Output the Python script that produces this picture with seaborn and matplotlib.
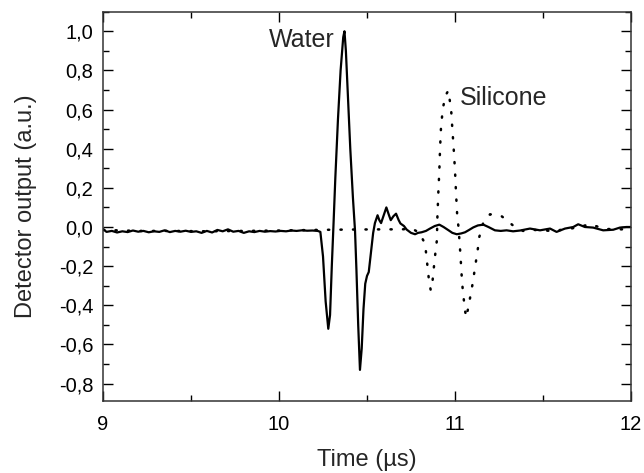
import numpy as np
import pandas as pd
import matplotlib
matplotlib.use("Agg")
import matplotlib.pyplot as plt
from matplotlib.ticker import MultipleLocator, FuncFormatter
import seaborn as sns

# ---- data ----
water_t = [9.00, 9.02, 9.05, 9.08, 9.11, 9.14, 9.17, 9.20, 9.23, 9.26, 9.29, 9.32, 9.35, 9.38,
           9.41, 9.44, 9.47, 9.50, 9.53, 9.56, 9.59, 9.62, 9.65, 9.68, 9.71, 9.74, 9.77, 9.80,
           9.83, 9.86, 9.89, 9.92, 9.95, 9.98, 10.01, 10.04, 10.07, 10.10, 10.13, 10.16, 10.19,
           10.22, 10.235, 10.25, 10.265, 10.28, 10.29, 10.30, 10.31, 10.32, 10.335, 10.35, 10.365,
           10.372, 10.38, 10.39, 10.405, 10.42, 10.432, 10.44, 10.45, 10.46, 10.47, 10.48, 10.49,
           10.50, 10.51, 10.52, 10.535, 10.545, 10.56, 10.57, 10.58, 10.595, 10.61, 10.625, 10.635,
           10.65, 10.665, 10.68, 10.69, 10.71, 10.725, 10.75, 10.773, 10.79, 10.81, 10.835, 10.858,
           10.885, 10.911, 10.935, 10.962, 10.985, 11.01, 11.035, 11.057, 11.08, 11.104, 11.13,
           11.161, 11.19, 11.227, 11.26, 11.293, 11.33, 11.37, 11.426, 11.483, 11.54, 11.577,
           11.625, 11.672, 11.70, 11.738, 11.785, 11.842, 11.899, 11.937, 11.974, 12.0]
water_v = [-0.010, -0.025, -0.020, -0.028, -0.022, -0.026, -0.018, -0.024, -0.020, -0.027, -0.022,
           -0.025, -0.017, -0.026, -0.020, -0.024, -0.019, -0.025, -0.022, -0.030, -0.020, -0.028,
           -0.015, -0.022, -0.012, -0.024, -0.020, -0.030, -0.022, -0.026, -0.020, -0.024, -0.021,
           -0.023, -0.020, -0.022, -0.018, -0.020, -0.017, -0.019, -0.018, -0.020, -0.025, -0.15,
           -0.38, -0.52, -0.45, -0.20, 0.02, 0.25, 0.55, 0.80, 0.97, 1.00, 0.90, 0.70, 0.40, 0.15,
           -0.02, -0.22, -0.50, -0.73, -0.62, -0.42, -0.29, -0.25, -0.23, -0.15, -0.03, 0.02, 0.06,
           0.035, 0.02, 0.06, 0.10, 0.06, 0.035, 0.055, 0.068, 0.035, 0.018, 0.005, -0.013, -0.030,
           -0.037, -0.030, -0.027, -0.020, -0.008, 0.005, 0.012, 0.0, -0.016, -0.030, -0.037, -0.033,
           -0.027, -0.015, -0.002, 0.008, 0.012, 0.0, -0.017, -0.020, -0.017, -0.022, -0.018, -0.008,
           -0.017, -0.008, -0.025, -0.008, 0.0, 0.014, 0.0, -0.003, -0.017, -0.014, -0.003, 0.0, 0.0]

silicone_t = [9.0, 9.2, 9.4, 9.6, 9.8, 10.0, 10.2, 10.4, 10.6, 10.7, 10.754, 10.80, 10.815, 10.830,
              10.838, 10.845, 10.852, 10.862, 10.87, 10.876, 10.883, 10.89, 10.897, 10.90, 10.905,
              10.911, 10.915, 10.92, 10.93, 10.945, 10.962, 10.978, 10.985, 10.992, 11.0, 11.006,
              11.013, 11.021, 11.025, 11.03, 11.034, 11.038, 11.043, 11.05, 11.055, 11.064, 11.078,
              11.088, 11.1, 11.11, 11.12, 11.13, 11.138, 11.16, 11.199, 11.235, 11.265, 11.30,
              11.328, 11.386, 11.45, 11.55, 11.65, 11.77, 11.85, 11.95, 12.0]
silicone_v = [-0.015, -0.02, -0.02, -0.022, -0.02, -0.018, -0.015, -0.013, -0.012, -0.012, -0.008,
              -0.03, -0.06, -0.085, -0.153, -0.212, -0.272, -0.323, -0.30, -0.24, -0.18, -0.12,
              -0.068, 0.051, 0.170, 0.289, 0.40, 0.50, 0.60, 0.67, 0.697, 0.60, 0.50, 0.408, 0.289,
              0.170, 0.051, -0.008, -0.068, -0.13, -0.19, -0.25, -0.31, -0.37, -0.417, -0.462,
              -0.40, -0.35, -0.29, -0.23, -0.17, -0.11, -0.051, 0.02, 0.065, 0.06, 0.055, 0.03,
              0.009, -0.02, -0.015, -0.02, -0.01, 0.014, -0.01, -0.012, -0.01]

x_ticks = [9, 10, 11, 12]
y_ticks = [-0.8, -0.6, -0.4, -0.2, 0.0, 0.2, 0.4, 0.6, 0.8, 1.0]

water = pd.DataFrame({"t": water_t, "v": water_v})
silicone = pd.DataFrame({"t": silicone_t, "v": silicone_v})

sns.set_theme(style="ticks")
plt.rcParams["font.family"] = ["Liberation Sans", "DejaVu Sans"]

fig = plt.figure(figsize=(6.44, 4.73), dpi=100)
ax = fig.add_axes([103 / 644, 1 - 401 / 473, (631 - 103) / 644, (401 - 11.7) / 473])

sns.lineplot(data=silicone, x="t", y="v", ax=ax, color="black", lw=1.8,
             linestyle=(0, (0.5, 4.5)), estimator=None, sort=False,
             dash_capstyle="round")
sns.lineplot(data=water, x="t", y="v", ax=ax, color="black", lw=1.6,
             estimator=None, sort=False)

ax.set_xlim(9, 12)
ax.set_ylim(-0.889, 1.1)
ax.set_xticks(x_ticks)
ax.set_yticks(y_ticks)
ax.xaxis.set_minor_locator(MultipleLocator(0.5))
ax.yaxis.set_minor_locator(MultipleLocator(0.1))
ax.xaxis.set_major_formatter(FuncFormatter(lambda v, p: f"{v:.0f}"))
ax.yaxis.set_major_formatter(FuncFormatter(lambda v, p: f"{v:.1f}".replace(".", ",").replace("\u2212", "-")))
ax.tick_params(which="both", direction="in", top=True, right=True, color="black", width=1)
ax.tick_params(which="major", length=7, labelsize=14.5, colors="black")
ax.tick_params(axis="x", which="major", pad=10)
ax.tick_params(axis="y", which="major", pad=7)
ax.tick_params(which="minor", length=4)
for s in ax.spines.values():
    s.set_linewidth(1.1)
    s.set_color("#333333")

ax.set_xlabel("Time (µs)", fontsize=17, labelpad=11)
ax.set_ylabel("Detector output (a.u.)", fontsize=17, labelpad=16)

ax.text(9.945, 0.953, "Water", fontsize=18, va="center", ha="left")
ax.text(11.028, 0.657, "Silicone", fontsize=18, va="center", ha="left")

fig.savefig("out.png", dpi=100)
